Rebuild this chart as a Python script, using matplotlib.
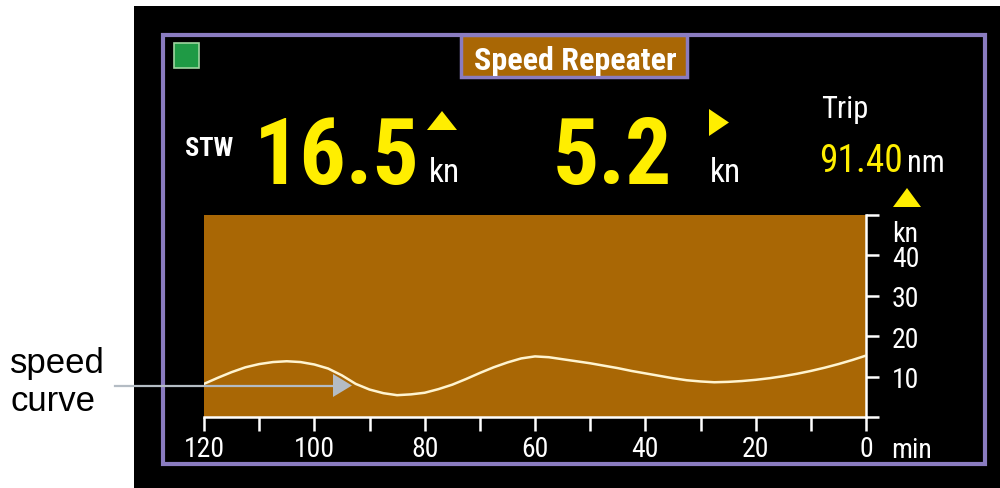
import matplotlib
matplotlib.use("Agg")
import matplotlib.pyplot as plt
from matplotlib.patches import Rectangle, Polygon
from matplotlib import font_manager

# ---- data ----
minutes = [120, 117.5, 115, 112.5, 110, 107.5, 105, 102.5, 100, 97.5, 95, 92.5, 90,
           87.5, 85, 82.5, 80, 77.5, 75, 72.5, 70, 67.5, 65, 62.5, 60,
           57.5, 55, 52.5, 50, 47.5, 45, 42.5, 40, 37.5, 35, 32.5, 30,
           27.5, 25, 22.5, 20, 17.5, 15, 12.5, 10, 7.5, 5, 2.5, 0]
speed_kn = [8.2, 9.7, 11.1, 12.3, 13.1, 13.6, 13.8, 13.6, 13.0, 12.0, 10.3, 8.2, 6.8,
            5.9, 5.4, 5.6, 6.0, 6.9, 8.0, 9.4, 10.9, 12.3, 13.5, 14.5, 15.0,
            14.8, 14.3, 13.8, 13.3, 12.7, 12.1, 11.4, 10.8, 10.2, 9.6, 9.1, 8.8,
            8.6, 8.7, 8.9, 9.2, 9.6, 10.1, 10.7, 11.4, 12.2, 13.1, 14.1, 15.2]
x_ticks_major = [120, 100, 80, 60, 40, 20, 0]
x_ticks_minor = [110, 90, 70, 50, 30, 10]
y_ticks = [0, 10, 20, 30, 40, 50]
y_tick_labels = ["", "10", "20", "30", "40", ""]
stw_value = "16.5"
second_value = "5.2"
trip_value = "91.40"

entries = font_manager.fontManager.ttflist
names = {f.name for f in entries}
narrow_name = None
for cand in ['Liberation Sans Narrow', 'Roboto Condensed', 'Open Sans Condensed',
             'Arial Narrow', 'Nimbus Sans Narrow', 'DejaVu Sans Condensed']:
    if cand in names:
        narrow_name = cand
        break
NARROW_STRETCH = 'normal'
if narrow_name is None:
    cond = [f for f in entries if f.name == 'DejaVu Sans' and str(f.stretch) in ('condensed', '300', 'semi-condensed')]
    if cond:
        narrow_name = 'DejaVu Sans'
        NARROW_STRETCH = 'condensed'
    elif 'Roboto' in names:
        narrow_name = 'Roboto'
    else:
        narrow_name = 'Liberation Sans'
NARROW = [narrow_name, 'DejaVu Sans']
SANS = ['Liberation Sans', 'DejaVu Sans']

W, H = 1000, 489
fig = plt.figure(figsize=(W / 100, H / 100), dpi=100, facecolor='white')

def fx(x):
    return x / W

def fy(y):
    return 1 - y / H

def rect(x0, y0, x1, y1, **kw):
    fig.patches.append(Rectangle((fx(x0), fy(y1)), fx(x1) - fx(x0), fy(y0) - fy(y1),
                                 transform=fig.transFigure, **kw))

def tri(pts, **kw):
    fig.patches.append(Polygon([(fx(a), fy(b)) for a, b in pts], closed=True,
                               transform=fig.transFigure, **kw))

def label(x, y, s, **kw):
    kw.setdefault('family', NARROW)
    kw.setdefault('fontstretch', NARROW_STRETCH)
    kw.setdefault('ha', 'left')
    kw.setdefault('va', 'baseline')
    return fig.text(fx(x), fy(y), s, **kw)

YELLOW = '#ffee00'
PURPLE = '#8a7cc0'
BROWN = '#a96705'

# black panel
rect(134, 7, 1000, 489, facecolor='black', edgecolor='none', zorder=-2)
# purple frame
rect(163, 35.5, 985, 465, facecolor='none', edgecolor=PURPLE, linewidth=3, zorder=1)
# green indicator
rect(174, 44, 199, 69, facecolor='#1f9a45', edgecolor='#9fd6a0', linewidth=1.2, zorder=2)
# title box
rect(461, 36, 687, 78, facecolor=BROWN, edgecolor=PURPLE, linewidth=2.5, zorder=2)
label(575, 70, "Speed Repeater", color='white', fontsize=23, fontweight='bold',
      ha='center', zorder=3)

# readouts
label(185, 156, "STW", color='white', fontsize=19, fontweight='bold')
label(254, 184, stw_value, color=YELLOW, fontsize=66, fontweight='bold')
label(429, 182, "kn", color='white', fontsize=24)
tri([(427, 131), (457, 131), (442, 112)], facecolor=YELLOW, edgecolor='none')

label(553, 184, second_value, color=YELLOW, fontsize=66, fontweight='bold')
label(710, 182, "kn", color='white', fontsize=24)
tri([(709, 110), (709, 137), (729, 123.5)], facecolor=YELLOW, edgecolor='none')

label(821, 118, "Trip", color='white', fontsize=22)
label(819, 172, trip_value, color=YELLOW, fontsize=27)
label(907, 172, "nm", color='white', fontsize=22)
tri([(893, 208), (921, 208), (907, 189)], facecolor=YELLOW, edgecolor='none')

# chart
ax = fig.add_axes([fx(204), fy(418), fx(866) - fx(204), fy(216) - fy(418)])
ax.set_zorder(3)
ax.set_facecolor(BROWN)
ax.plot(minutes, speed_kn, color='#fff4d0', linewidth=1.8, solid_joinstyle='round',
        solid_capstyle='round', zorder=3)
ax.set_xlim(120, 0)
ax.set_ylim(0, 50)
for s in ['top', 'left']:
    ax.spines[s].set_visible(False)
for s in ['bottom', 'right']:
    ax.spines[s].set_color('white')
    ax.spines[s].set_linewidth(1.8)
ax.yaxis.tick_right()
ax.set_xticks(x_ticks_major)
ax.set_xticks(x_ticks_minor, minor=True)
ax.set_xticklabels([str(v) for v in x_ticks_major], fontsize=20, color='white',
                   family=NARROW, fontstretch=NARROW_STRETCH)
ax.set_yticks(y_ticks)
ax.set_yticklabels(y_tick_labels, fontsize=20, color='white', family=NARROW,
                   fontstretch=NARROW_STRETCH)
ax.tick_params(axis='x', which='both', direction='out', length=10, width=1.8,
               color='white', pad=3)
ax.tick_params(axis='y', direction='out', length=9.5, width=1.8, color='white', pad=9)

label(892, 242, "kn", color='white', fontsize=20)
label(891, 458, "min", color='white', fontsize=20)

# annotation
fig.text(fx(10), fy(373), "speed", color='black', fontsize=25, family=SANS,
         ha='left', va='baseline')
fig.text(fx(10), fy(411), "curve", color='black', fontsize=25, family=SANS,
         ha='left', va='baseline')
fig.lines.append(plt.Line2D([fx(115), fx(335)], [fy(386.5), fy(386.5)],
                            transform=fig.transFigure, color='#b4bcc4', linewidth=1.6, zorder=5))
tri([(333, 375), (333, 398), (352, 386.5)], facecolor='#b4bcc4', edgecolor='none', zorder=5)

fig.savefig('out.png', dpi=100, facecolor='white')
